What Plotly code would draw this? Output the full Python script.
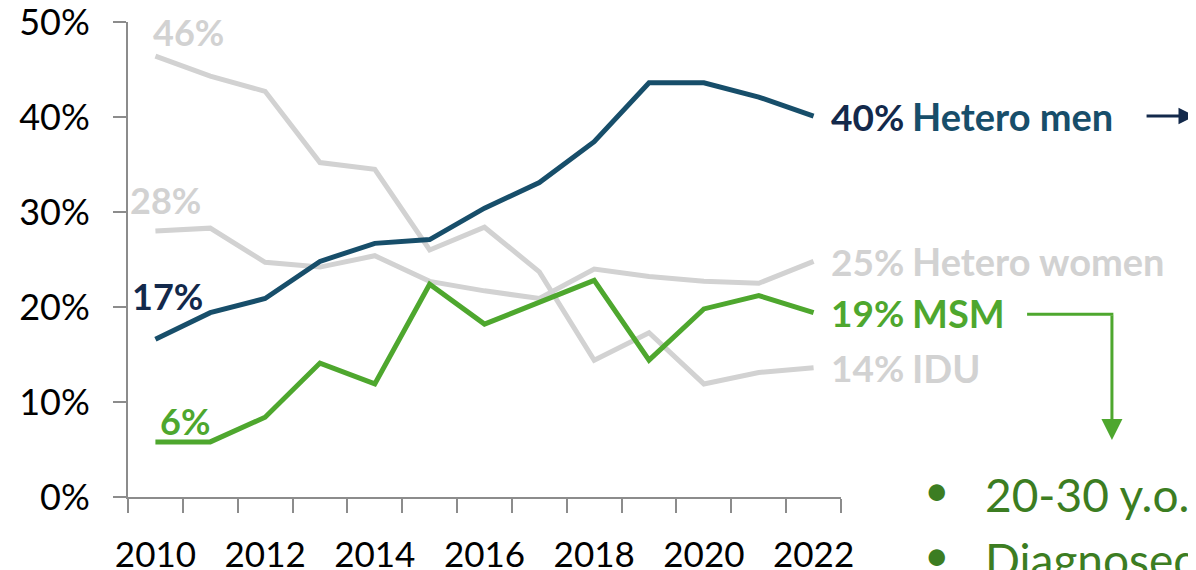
import plotly.graph_objects as go

years = list(range(2010, 2023))
hetero_men = [16.6, 19.4, 20.9, 24.8, 26.7, 27.1, 30.4, 33.1, 37.4, 43.6, 43.6, 42.1, 40.1]
hetero_women = [28.0, 28.3, 24.7, 24.2, 25.4, 22.7, 21.7, 20.9, 24.0, 23.2, 22.7, 22.5, 24.8]
idu = [46.4, 44.3, 42.7, 35.2, 34.5, 26.0, 28.4, 23.7, 14.4, 17.3, 11.9, 13.1, 13.6]
msm = [5.8, 5.8, 8.4, 14.1, 11.9, 22.4, 18.2, 20.5, 22.8, 14.4, 19.8, 21.2, 19.4]

y_ticks = [0, 10, 20, 30, 40, 50]
y_labels = ["0%", "10%", "20%", "30%", "40%", "50%"]
x_ticks = years[::2]

NAVY = "#13294B"
TEAL = "#174E6A"
GREEN = "#4EA72E"
DARK_GREEN = "#3C7D22"
GRAY = "#D2D2D2"
AXIS = "#8C8C8C"
FONT = "Lato"

fig = go.Figure()

# grey lines first so the coloured ones sit on top
for series in [hetero_women, idu]:
    fig.add_trace(go.Scatter(x=years, y=series, mode="lines",
                             line=dict(color=GRAY, width=5), hoverinfo="skip"))
fig.add_trace(go.Scatter(x=years, y=hetero_men, mode="lines",
                         line=dict(color=TEAL, width=5), hoverinfo="skip"))
fig.add_trace(go.Scatter(x=years, y=msm, mode="lines",
                         line=dict(color=GREEN, width=5), hoverinfo="skip"))


def label(x, y, text, color, size, xshift=0, yshift=0, bold=True):
    fig.add_annotation(
        x=x, y=y, text=f"<b>{text}</b>" if bold else text,
        showarrow=False, xanchor="left", yanchor="middle",
        xshift=xshift, yshift=yshift,
        font=dict(family=FONT, size=size, color=color),
    )


# start labels
label(years[0], idu[0], f"{round(idu[0])}%", GRAY, 36, xshift=-4, yshift=24)
label(years[0], hetero_women[0], f"{round(hetero_women[0])}%", GRAY, 36, xshift=-27, yshift=31)
label(years[0], hetero_men[0], f"{round(hetero_men[0])}%", NAVY, 36, xshift=-25, yshift=43)
label(years[0], msm[0], f"{round(msm[0])}%", GREEN, 36, xshift=3, yshift=21)

# end labels
ends = [
    (hetero_men[-1], "Hetero men", NAVY, TEAL),
    (hetero_women[-1], "Hetero women", GRAY, GRAY),
    (msm[-1], "MSM", GREEN, GREEN),
    (idu[-1], "IDU", GRAY, GRAY),
]
for val, name, pct_color, name_color in ends:
    label(years[-1], val, f"{round(val)}%", pct_color, 37, xshift=15)
    label(years[-1], val, name, name_color, 38, xshift=96)

# arrow after "Hetero men"
fig.add_annotation(
    x=1.505, y=hetero_men[-1] / 50, xref="paper", yref="paper",
    ax=-56, ay=0, text="", showarrow=True,
    arrowhead=2, arrowsize=1.1, arrowwidth=3, arrowcolor=NAVY,
)

# elbow arrow from MSM down to the bullets
fig.add_shape(type="line", xref="paper", yref="paper",
              x0=1.261, x1=1.382, y0=0.385, y1=0.385,
              line=dict(color=GREEN, width=3))
fig.add_annotation(
    x=1.380, y=0.12, xref="paper", yref="paper",
    ax=0, ay=-126, text="", showarrow=True,
    arrowhead=2, arrowsize=1.4, arrowwidth=3, arrowcolor=GREEN,
)

# bullets
bullets = ["20-30 y.o.", "Diagnosed"]
for i, txt in enumerate(bullets):
    step = i * 0.137
    fig.add_annotation(x=1.113, y=0.016 - step, xref="paper", yref="paper",
                       text="•", showarrow=False, xanchor="left", yanchor="middle",
                       font=dict(family=FONT, size=44, color=DARK_GREEN))
    fig.add_annotation(x=1.199, y=0.006 - step, xref="paper", yref="paper",
                       text=txt, showarrow=False, xanchor="left", yanchor="middle",
                       font=dict(family=FONT, size=46, color=DARK_GREEN))

# the page body adds an 8px margin, so the figure is 8px smaller than the window
fig.update_layout(
    width=1188, height=562,
    margin=dict(l=120, r=355, t=14, b=73, autoexpand=False),
    paper_bgcolor="white", plot_bgcolor="white",
    showlegend=False,
    font=dict(family=FONT, color="black"),
)
fig.update_xaxes(
    range=[2009.5, 2022.5], automargin=False,
    tickmode="array", tickvals=x_ticks, ticktext=[str(v) for v in x_ticks],
    ticks="", showgrid=False, zeroline=False,
    showline=True, linecolor=AXIS, linewidth=2,
    tickfont=dict(family=FONT, size=35, color="black"),
    ticklabelstandoff=26, ticklabeloverflow="allow",
    minor=dict(tickvals=[y - 0.5 for y in years] + [years[-1] + 0.5],
               ticks="outside", ticklen=14, tickwidth=2, tickcolor=AXIS),
)
fig.update_yaxes(
    range=[0, 50], automargin=False,
    tickmode="array", tickvals=y_ticks, ticktext=y_labels,
    ticks="outside", ticklen=13, tickwidth=2, tickcolor=AXIS,
    showgrid=False, zeroline=False,
    showline=True, linecolor=AXIS, linewidth=2,
    tickfont=dict(family=FONT, size=36, color="black"),
    ticklabelstandoff=16, ticklabeloverflow="allow",
)

fig.write_html("out.html")
